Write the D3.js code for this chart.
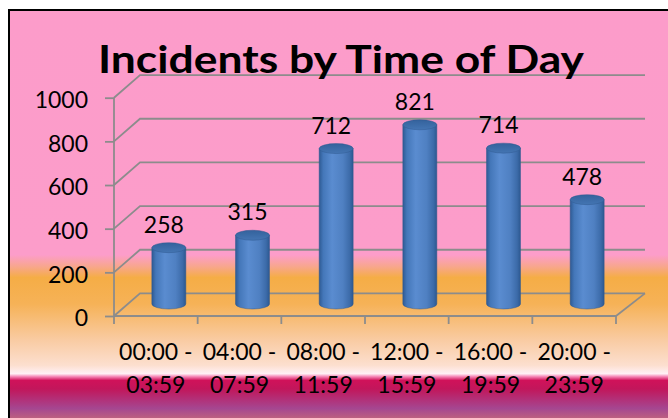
<!DOCTYPE html>
<html><head><meta charset="utf-8">
<script src="https://cdn.jsdelivr.net/npm/d3@7"></script>
<style>html,body{margin:0;padding:0;background:#fff;}svg{display:block;}</style>
</head><body>
<svg id="c" width="668" height="418"></svg>
<script>
const categoriesTop = ["00:00 -","04:00 -","08:00 -","12:00 -","16:00 -","20:00 -"];
const categoriesBottom = ["03:59","07:59","11:59","15:59","19:59","23:59"];
const values = [258,315,712,821,714,478];
const yTicks = [0,200,400,600,800,1000];
const title = "Incidents by Time of Day";

const svg = d3.select("#c");
const defs = svg.append("defs");
const FONT = "Lato, 'Open Sans', sans-serif";

// background gradient
const bg = defs.append("linearGradient").attr("id","bg").attr("x1",0).attr("y1",0).attr("x2",0).attr("y2",1);
[[0,"#FC9CCA"],[0.583,"#FC9DCA"],[0.61,"#F8A68F"],[0.637,"#F5AD46"],[0.70,"#F6B257"],[0.785,"#F9CBA2"],[0.846,"#FCDFCF"],[0.866,"#FFF0F5"],[0.873,"#F585B5"],[0.882,"#D0125A"],[0.902,"#C2165B"],[0.949,"#A54791"],[1,"#D9806A"]]
  .forEach(([o,c])=>bg.append("stop").attr("offset",o).attr("stop-color",c));

svg.append("rect").attr("x",9).attr("y",10).attr("width",670).attr("height",420)
  .attr("fill","url(#bg)").attr("stroke","#000").attr("stroke-width",2);

// scales
const x = d3.scaleBand().domain(d3.range(values.length)).range([114,616]).padding(0);
const y = d3.scaleLinear().domain([0,1000]).range([316,97.7]);
const dx = 26, dy = -22.6, backRight = 645;

const grid = svg.append("g").attr("fill","none").attr("stroke","#8c8c8c").attr("stroke-width",1.8);
yTicks.forEach(t=>{
  grid.append("path").attr("d",`M${x.range()[0]},${y(t)}L${x.range()[0]+dx},${y(t)+dy}L${backRight},${y(t)+dy}`);
});
// floor right edge
grid.append("path").attr("d",`M${x.range()[1]},${y(0)}L${backRight},${y(0)+dy}`);

// y axis
const yAxis = svg.append("g").attr("transform",`translate(${x.range()[0]},0)`)
  .call(d3.axisLeft(y).tickValues(yTicks).tickSize(9).tickPadding(17).tickFormat(d3.format("d")));
yAxis.select(".domain").attr("stroke","#8c8c8c").attr("stroke-width",1.8).attr("d",`M0,${y(1000)}V${y(0)}`);
yAxis.selectAll(".tick line").attr("stroke","#8c8c8c").attr("stroke-width",1.8);
yAxis.selectAll(".tick text").attr("font-family",FONT).attr("font-size",23).attr("fill","#000").attr("dy","0.42em");

// x axis line and ticks at band boundaries
const xBound = x.domain().map(i=>x(i)).concat([x.range()[1]]);
svg.append("line").attr("x1",x.range()[0]).attr("x2",x.range()[1]).attr("y1",y(0)).attr("y2",y(0))
  .attr("stroke","#8c8c8c").attr("stroke-width",1.8);
svg.append("g").selectAll("line").data(xBound).join("line")
  .attr("x1",d=>d).attr("x2",d=>d).attr("y1",y(0)).attr("y2",y(0)+8)
  .attr("stroke","#8c8c8c").attr("stroke-width",1.8);

// x labels via axis
const xAxis = svg.append("g").attr("transform",`translate(0,${y(0)})`)
  .call(d3.axisBottom(x).tickSize(0).tickFormat(""));
xAxis.select(".domain").remove();
xAxis.selectAll(".tick").each(function(i){
  const t = d3.select(this).append("text").attr("font-family",FONT).attr("font-size",23).attr("fill","#000").attr("text-anchor","middle");
  t.append("tspan").attr("x",0).attr("y",360-316).text(categoriesTop[i]);
  t.append("tspan").attr("x",0).attr("y",392.5-316).text(categoriesBottom[i]);
});

// cylinders
const bodyG = defs.append("linearGradient").attr("id","body").attr("x1",0).attr("y1",0).attr("x2",1).attr("y2",0);
[[0,"#2E5A93"],[0.12,"#4477B9"],[0.38,"#5A8CD0"],[0.7,"#4F80C2"],[0.9,"#3C6BA9"],[1,"#2C5890"]]
  .forEach(([o,c])=>bodyG.append("stop").attr("offset",o).attr("stop-color",c));
const topG = defs.append("linearGradient").attr("id","top").attr("x1",0).attr("y1",0).attr("x2",0).attr("y2",1);
[[0,"#34629C"],[1,"#4475B3"]].forEach(([o,c])=>topG.append("stop").attr("offset",o).attr("stop-color",c));

const bw = 34, rx = bw/2, ry = 5, off = -12;
const bars = svg.append("g").selectAll("g").data(values).join("g");
bars.each(function(v,i){
  const g = d3.select(this);
  const cx = x(i) + x.bandwidth()/2 + dx/2;
  const base = y(0) + off, top = y(v) + off;
  g.append("path")
    .attr("d",`M${cx-rx},${top}L${cx-rx},${base}A${rx},${ry} 0 0 0 ${cx+rx},${base}L${cx+rx},${top}Z`)
    .attr("fill","url(#body)").attr("stroke","#2E5890").attr("stroke-width",0.8).attr("stroke-opacity",0.6);
  g.append("ellipse").attr("cx",cx).attr("cy",top).attr("rx",rx).attr("ry",ry)
    .attr("fill","url(#top)").attr("stroke","#2E5890").attr("stroke-width",0.8).attr("stroke-opacity",0.6);
  svg.append("text").attr("x",cx-5).attr("y",top-ry-10).attr("text-anchor","middle")
    .attr("font-family",FONT).attr("font-size",23).attr("fill","#000").text(v);
});

// title
svg.append("text").attr("x",98).attr("y",73.3).attr("font-family",FONT).attr("font-weight","bold")
  .attr("font-size",38).attr("textLength",486).attr("lengthAdjust","spacingAndGlyphs").attr("fill","#000").text(title);
</script>
</body></html>
